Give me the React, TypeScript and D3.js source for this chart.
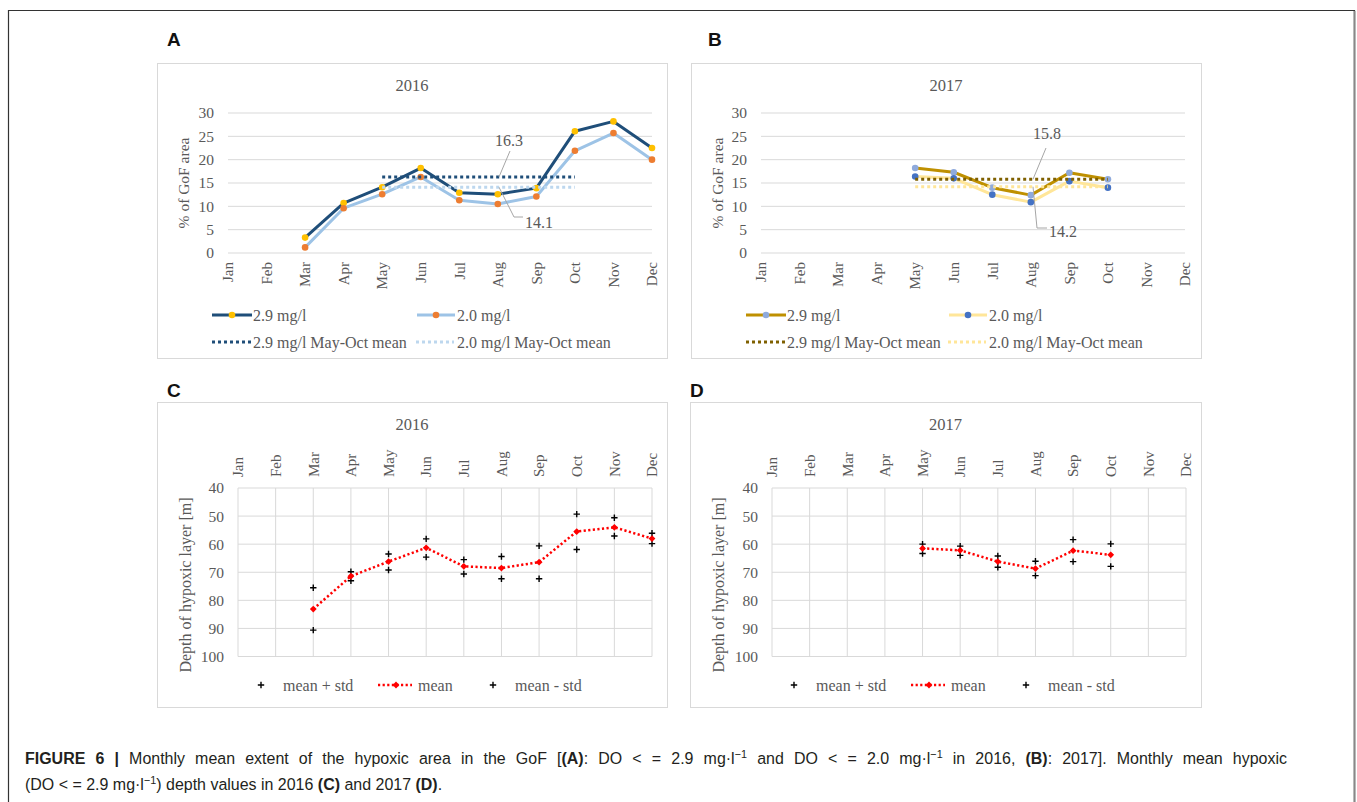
import React, { useLayoutEffect, useRef, useState } from 'react';
import * as d3 from 'd3';

// ---- shared axes ----
const MONTHS = ['Jan', 'Feb', 'Mar', 'Apr', 'May', 'Jun', 'Jul', 'Aug', 'Sep', 'Oct', 'Nov', 'Dec'];
const AREA_TICKS = [0, 5, 10, 15, 20, 25, 30];
const DEPTH_TICKS = [40, 50, 60, 70, 80, 90, 100];
const MEAN_MONTHS = ['May', 'Oct'];

// ---- A: hypoxic area 2016, % of GoF ----
const A_MONTHS = ['Mar', 'Apr', 'May', 'Jun', 'Jul', 'Aug', 'Sep', 'Oct', 'Nov', 'Dec'];
const A_DO29 = [3.3, 10.7, 14.1, 18.2, 12.9, 12.6, 13.9, 26.1, 28.2, 22.5];
const A_DO20 = [1.2, 9.6, 12.6, 16.3, 11.3, 10.5, 12.1, 21.9, 25.7, 20.0];
const A_MEAN29 = 16.3;
const A_MEAN20 = 14.1;

// ---- B: hypoxic area 2017, % of GoF ----
const B_MONTHS = ['May', 'Jun', 'Jul', 'Aug', 'Sep', 'Oct'];
const B_DO29 = [18.2, 17.3, 14.0, 12.4, 17.2, 15.8];
const B_DO20 = [16.4, 16.0, 12.5, 10.9, 15.4, 14.0];
const B_MEAN29 = 15.8;
const B_MEAN20 = 14.2;

// ---- C: hypoxic layer depth 2016 [m] ----
const C_MONTHS = ['Mar', 'Apr', 'May', 'Jun', 'Jul', 'Aug', 'Sep', 'Oct', 'Nov', 'Dec'];
const C_MEAN = [83.1, 71.4, 66.2, 61.3, 67.9, 68.5, 66.4, 55.5, 54.0, 58.0];
const C_PLUS = [90.6, 73.0, 69.2, 64.6, 70.6, 72.3, 72.3, 61.9, 57.1, 59.8];
const C_MINUS = [75.5, 69.8, 63.5, 58.1, 65.5, 64.4, 60.6, 49.3, 50.6, 56.1];

// ---- D: hypoxic layer depth 2017 [m] ----
const D_MONTHS = ['May', 'Jun', 'Jul', 'Aug', 'Sep', 'Oct'];
const D_MEAN = [61.5, 62.2, 66.2, 68.7, 62.3, 63.8];
const D_PLUS = [63.3, 64.0, 68.2, 71.2, 66.2, 67.9];
const D_MINUS = [60.0, 60.7, 64.2, 66.1, 58.4, 59.9];

const SERIF = '"Liberation Serif", "Times New Roman", serif';
const SANS = '"Liberation Sans", Arial, sans-serif';
const TXT = '#595959';
const GRID = '#d9d9d9';

type Pt = [string, number];
const zip = (m: string[], v: number[]): Pt[] => m.map((k, i) => [k, v[i]]);

interface AreaProps {
  box: [number, number, number, number];
  px: [number, number];
  title: string;
  letter: string;
  letterX: number;
  months: string[];
  s29: number[];
  s20: number[];
  mean29: number;
  mean20: number;
  c: { l29: string; m29: string; l20: string; m20: string; a29: string; a20: string };
  lab29: { text: [number, number]; lead: [number, number][] };
  lab20: { text: [number, number]; lead: [number, number][] };
  legend: { x1: number; x2: number };
}

function AreaPanel(p: AreaProps) {
  const x = d3.scalePoint<string>().domain(MONTHS).range(p.px).padding(0);
  const y = d3.scaleLinear().domain([0, 30]).range([253, 113]);
  const line = d3.line<Pt>().x(d => x(d[0])!).y(d => y(d[1]));
  const [bx, by, bw, bh] = p.box;
  const d29 = zip(p.months, p.s29);
  const d20 = zip(p.months, p.s20);
  const m29 = zip(MEAN_MONTHS, [p.mean29, p.mean29]);
  const m20 = zip(MEAN_MONTHS, [p.mean20, p.mean20]);
  const lead = d3.line();
  const ly1 = 315;
  const ly2 = 342;
  const { x1, x2 } = p.legend;
  return (
    <g>
      <text x={p.letterX} y={46} fontFamily={SANS} fontWeight="bold" fontSize={19} fill="#111">{p.letter}</text>
      <rect x={bx + 0.5} y={by + 0.5} width={bw} height={bh} fill="#fff" stroke={GRID} />
      <text x={(bx + bw / 2)} y={91} textAnchor="middle" fontFamily={SERIF} fontSize={16.5} fill={TXT}>{p.title}</text>
      {AREA_TICKS.map(t => (
        <g key={t}>
          <line x1={p.px[0]} x2={p.px[1]} y1={y(t)} y2={y(t)} stroke={GRID} strokeWidth={1} />
          <text x={p.px[0] - 14} y={y(t)} dy="0.35em" textAnchor="end" fontFamily={SERIF} fontSize={15.5} fill={TXT}>{t}</text>
        </g>
      ))}
      {MONTHS.map(m => (
        <text key={m} transform={`translate(${x(m)},262) rotate(-90)`} dy="0.35em" textAnchor="end"
          fontFamily={SERIF} fontSize={15} fill={TXT}>{m}</text>
      ))}
      <text transform={`translate(${bx + 27},183) rotate(-90)`} dy="0.35em" textAnchor="middle"
        fontFamily={SERIF} fontSize={15.5} fill={TXT}>% of GoF area</text>

      <path d={line(d29)!} fill="none" stroke={p.c.l29} strokeWidth={3} strokeLinejoin="round" />
      {d29.map(d => <circle key={d[0]} cx={x(d[0])} cy={y(d[1])} r={3.3} fill={p.c.m29} />)}
      <path d={line(d20)!} fill="none" stroke={p.c.l20} strokeWidth={3} strokeLinejoin="round" />
      {d20.map(d => <circle key={d[0]} cx={x(d[0])} cy={y(d[1])} r={3.3} fill={p.c.m20} />)}
      <path d={line(m29)!} fill="none" stroke={p.c.a29} strokeWidth={3} strokeDasharray="3,3" />
      <path d={line(m20)!} fill="none" stroke={p.c.a20} strokeWidth={3} strokeDasharray="3,3" />

      {/* data labels for the May-Oct means */}
      <path d={lead(p.lab29.lead.map(([a, b]) => [a, b === -1 ? y(p.mean29) : b]))!} fill="none" stroke="#a6a6a6" strokeWidth={1} />
      <text x={p.lab29.text[0]} y={p.lab29.text[1]} dy="0.35em" textAnchor="middle" fontFamily={SERIF} fontSize={16} fill={TXT}>{p.mean29.toFixed(1)}</text>
      <path d={lead(p.lab20.lead.map(([a, b]) => [a, b === -1 ? y(p.mean20) : b]))!} fill="none" stroke="#a6a6a6" strokeWidth={1} />
      <text x={p.lab20.text[0]} y={p.lab20.text[1]} dy="0.35em" textAnchor="middle" fontFamily={SERIF} fontSize={16} fill={TXT}>{p.mean20.toFixed(1)}</text>

      {/* legend */}
      <line x1={x1} x2={x1 + 40} y1={ly1} y2={ly1} stroke={p.c.l29} strokeWidth={3} />
      <circle cx={x1 + 20} cy={ly1} r={3.3} fill={p.c.m29} />
      <text x={x1 + 41} y={ly1} dy="0.35em" fontFamily={SERIF} fontSize={16} fill={TXT}>2.9 mg/l</text>
      <line x1={x2} x2={x2 + 38} y1={ly1} y2={ly1} stroke={p.c.l20} strokeWidth={3} />
      <circle cx={x2 + 19} cy={ly1} r={3.3} fill={p.c.m20} />
      <text x={x2 + 40} y={ly1} dy="0.35em" fontFamily={SERIF} fontSize={16} fill={TXT}>2.0 mg/l</text>
      <line x1={x1} x2={x1 + 39} y1={ly2} y2={ly2} stroke={p.c.a29} strokeWidth={3} strokeDasharray="3,3" />
      <text x={x1 + 41} y={ly2} dy="0.35em" fontFamily={SERIF} fontSize={16} fill={TXT}>2.9 mg/l May-Oct mean</text>
      <line x1={x2 - 1} x2={x2 + 37} y1={ly2} y2={ly2} stroke={p.c.a20} strokeWidth={3} strokeDasharray="3,3" />
      <text x={x2 + 40} y={ly2} dy="0.35em" fontFamily={SERIF} fontSize={16} fill={TXT}>2.0 mg/l May-Oct mean</text>
    </g>
  );
}

interface DepthProps {
  box: [number, number, number, number];
  px: [number, number];
  title: string;
  letter: string;
  letterX: number;
  months: string[];
  mean: number[];
  plus: number[];
  minus: number[];
  legendX: number;
}

function Plus({ cx, cy, s = 3.2 }: { cx: number; cy: number; s?: number }) {
  return (
    <path d={`M${cx - s},${cy}H${cx + s}M${cx},${cy - s}V${cy + s}`} stroke="#000" strokeWidth={1.4} fill="none" />
  );
}

function Diamond({ cx, cy, s = 3.4 }: { cx: number; cy: number; s?: number }) {
  return <path d={`M${cx},${cy - s}L${cx + s},${cy}L${cx},${cy + s}L${cx - s},${cy}Z`} fill="#ff0000" />;
}

function DepthPanel(p: DepthProps) {
  const x = d3.scalePoint<string>().domain(MONTHS).range(p.px).padding(0);
  const y = d3.scaleLinear().domain([40, 100]).range([488, 656.5]);
  const line = d3.line<Pt>().x(d => x(d[0])!).y(d => y(d[1]));
  const [bx, by, bw, bh] = p.box;
  const dm = zip(p.months, p.mean);
  const dp = zip(p.months, p.plus);
  const dn = zip(p.months, p.minus);
  const ly = 685;
  const lx = p.legendX;
  return (
    <g>
      <text x={p.letterX} y={397} fontFamily={SANS} fontWeight="bold" fontSize={19} fill="#111">{p.letter}</text>
      <rect x={bx + 0.5} y={by + 0.5} width={bw} height={bh} fill="#fff" stroke={GRID} />
      <text x={bx + bw / 2} y={430} textAnchor="middle" fontFamily={SERIF} fontSize={16.5} fill={TXT}>{p.title}</text>
      {DEPTH_TICKS.map(t => (
        <g key={t}>
          <line x1={p.px[0]} x2={p.px[1]} y1={y(t)} y2={y(t)} stroke={GRID} strokeWidth={1} />
          <text x={p.px[0] - 14} y={y(t)} dy="0.35em" textAnchor="end" fontFamily={SERIF} fontSize={15.5} fill={TXT}>{t}</text>
        </g>
      ))}
      {MONTHS.map(m => (
        <g key={m}>
          <line x1={x(m)} x2={x(m)} y1={y(40)} y2={y(100)} stroke={GRID} strokeWidth={1} />
          <text transform={`translate(${x(m)},477) rotate(-90)`} dy="0.35em" textAnchor="start"
            fontFamily={SERIF} fontSize={15} fill={TXT}>{m}</text>
        </g>
      ))}
      <text transform={`translate(${bx + 28},585) rotate(-90)`} dy="0.35em" textAnchor="middle"
        fontFamily={SERIF} fontSize={16} fill={TXT}>Depth of hypoxic layer [m]</text>

      {dp.map(d => <Plus key={'p' + d[0]} cx={x(d[0])!} cy={y(d[1])} />)}
      {dn.map(d => <Plus key={'n' + d[0]} cx={x(d[0])!} cy={y(d[1])} />)}
      <path d={line(dm)!} fill="none" stroke="#ff0000" strokeWidth={2.5} strokeDasharray="2.2,2.4" />
      {dm.map(d => <Diamond key={d[0]} cx={x(d[0])!} cy={y(d[1])} />)}

      {/* legend */}
      <Plus cx={lx} cy={ly} />
      <text x={lx + 22} y={ly} dy="0.35em" fontFamily={SERIF} fontSize={16} fill={TXT}>mean + std</text>
      <line x1={lx + 117} x2={lx + 151} y1={ly} y2={ly} stroke="#ff0000" strokeWidth={2.5} strokeDasharray="2.2,2.4" />
      <Diamond cx={lx + 135} cy={ly} />
      <text x={lx + 157} y={ly} dy="0.35em" fontFamily={SERIF} fontSize={16} fill={TXT}>mean</text>
      <Plus cx={lx + 232} cy={ly} />
      <text x={lx + 254} y={ly} dy="0.35em" fontFamily={SERIF} fontSize={16} fill={TXT}>mean - std</text>
    </g>
  );
}

// caption typography: narrow sans, first line justified to the frame width
const CAP_SIZE = 17;
const CAP_SCALE = 0.94;
const CAP_LEFT = 25;
const CAP_RIGHT = 1287;

function Caption() {
  const ref = useRef<SVGTextElement>(null);
  const [ws, setWs] = useState(0);
  useLayoutEffect(() => {
    const el = ref.current;
    if (!el || ws !== 0) return;
    const natural = el.getComputedTextLength();
    const spaces = (el.textContent || '').split(' ').length - 1;
    const target = (CAP_RIGHT - CAP_LEFT) / CAP_SCALE;
    if (spaces > 0 && target > natural) setWs((target - natural) / spaces);
  }, [ws]);
  return (
    <g transform={`translate(${CAP_LEFT},764) scale(${CAP_SCALE},1)`} fontFamily={SANS} fontSize={CAP_SIZE} fill="#231f20">
      <text ref={ref} x={0} y={0} style={{ wordSpacing: `${ws}px` }}>
        <tspan fontWeight="bold">FIGURE 6 |</tspan>
        <tspan> Monthly mean extent of the hypoxic area in the GoF [</tspan>
        <tspan fontWeight="bold">(A)</tspan>
        <tspan>: DO {'<'} = 2.9 mg·l</tspan>
        <tspan dy={-6} fontSize={11.5}>−1</tspan>
        <tspan dy={6}> and DO {'<'} = 2.0 mg·l</tspan>
        <tspan dy={-6} fontSize={11.5}>−1</tspan>
        <tspan dy={6}> in 2016, </tspan>
        <tspan fontWeight="bold">(B)</tspan>
        <tspan>: 2017]. Monthly mean hypoxic</tspan>
      </text>
      <text x={0} y={26}>
        <tspan>(DO {'<'} = 2.9 mg·l</tspan>
        <tspan dy={-6} fontSize={11.5}>−1</tspan>
        <tspan dy={6}>) depth values in 2016 </tspan>
        <tspan fontWeight="bold">(C)</tspan>
        <tspan> and 2017 </tspan>
        <tspan fontWeight="bold">(D)</tspan>
        <tspan>.</tspan>
      </text>
    </g>
  );
}

export default function App() {
  return (
    <svg width={1357} height={802} style={{ position: 'absolute', left: 0, top: 0, background: '#fff' }}>
      <rect x={0} y={0} width={1357} height={802} fill="#fff" />
      <path d="M8.5,806V10.5H1354.5V806" fill="none" stroke="#333" strokeWidth={1.2} />
      <line x1={1354.5} x2={1354.5} y1={11} y2={806} stroke="#888" strokeWidth={2} />

      <AreaPanel
        box={[157, 63, 510, 295]} px={[228, 652]} title="2016" letter="A" letterX={167}
        months={A_MONTHS} s29={A_DO29} s20={A_DO20} mean29={A_MEAN29} mean20={A_MEAN20}
        c={{ l29: '#1f4e79', m29: '#ffc000', l20: '#9dc3e6', m20: '#ed7d31', a29: '#1f4e79', a20: '#bdd7ee' }}
        lab29={{ text: [509, 140], lead: [[510, 151], [499, -1]] }}
        lab20={{ text: [539, 222], lead: [[499, -1], [514, 217], [523, 217]] }}
        legend={{ x1: 212, x2: 417 }}
      />
      <AreaPanel
        box={[691, 63, 510, 295]} px={[761, 1185]} title="2017" letter="B" letterX={708}
        months={B_MONTHS} s29={B_DO29} s20={B_DO20} mean29={B_MEAN29} mean20={B_MEAN20}
        c={{ l29: '#bf9000', m29: '#8faadc', l20: '#ffe699', m20: '#4472c4', a29: '#7f6000', a20: '#ffe699' }}
        lab29={{ text: [1047, 133], lead: [[1046, 148], [1033, -1]] }}
        lab20={{ text: [1063, 231], lead: [[1033, -1], [1037, 228], [1047, 228]] }}
        legend={{ x1: 746, x2: 949 }}
      />
      <DepthPanel
        box={[157, 402, 510, 305]} px={[238, 652]} title="2016" letter="C" letterX={167}
        months={C_MONTHS} mean={C_MEAN} plus={C_PLUS} minus={C_MINUS} legendX={261}
      />
      <DepthPanel
        box={[690, 402, 511, 305]} px={[772, 1186]} title="2017" letter="D" letterX={690}
        months={D_MONTHS} mean={D_MEAN} plus={D_PLUS} minus={D_MINUS} legendX={794}
      />

      <Caption />
    </svg>
  );
}
